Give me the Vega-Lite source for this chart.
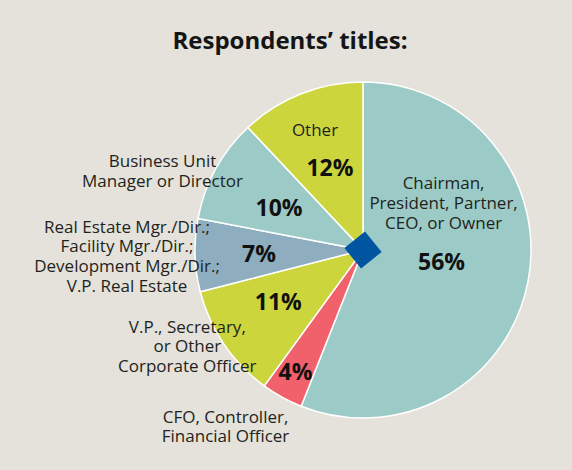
{
  "$schema": "https://vega.github.io/schema/vega-lite/v6.json",
  "width": 334,
  "height": 336,
  "autosize": {"type": "none"},
  "padding": {"left": 196, "top": 82, "right": 42, "bottom": 52},
  "background": "#e4e2da",
  "config": {"view": {"stroke": null}},
  "title": {"text": "Respondents’ titles:", "font": "Open Sans", "fontSize": 24, "fontWeight": "bold", "color": "#151515", "anchor": "middle", "dx": -73, "offset": 25},
  "data": {"values": [
    {"key": "Chairman", "label": "Chairman,\nPresident, Partner,\nCEO, or Owner", "share": 0.56, "rank": 1},
    {"key": "CFO", "label": "CFO, Controller,\nFinancial Officer", "share": 0.04, "rank": 2},
    {"key": "VP", "label": "V.P., Secretary,\nor Other\nCorporate Officer", "share": 0.11, "rank": 3},
    {"key": "RealEstate", "label": "Real Estate Mgr./Dir.;\nFacility Mgr./Dir.;\nDevelopment Mgr./Dir.;\nV.P. Real Estate", "share": 0.07, "rank": 4},
    {"key": "BusinessUnit", "label": "Business Unit\nManager or Director", "share": 0.10, "rank": 5},
    {"key": "Other", "label": "Other", "share": 0.12, "rank": 6}
  ]},
  "layer": [
    {
      "mark": {"type": "arc", "radius": 168, "stroke": "#ffffff", "strokeWidth": 1.5},
      "encoding": {
        "theta": {"field": "share", "type": "quantitative", "stack": true},
        "order": {"field": "rank", "type": "quantitative"},
        "color": {"field": "key", "type": "nominal", "legend": null,
          "scale": {"domain": ["Chairman", "CFO", "VP", "RealEstate", "BusinessUnit", "Other"],
                    "range": ["#9ccbc7", "#f1616c", "#ccd53c", "#8eadbf", "#9ccbc7", "#ccd53c"]}}
      }
    },
    {
      "transform": [{"filter": "datum.rank === 1"}],
      "mark": {"type": "point", "shape": "square", "angle": 51, "size": 700, "filled": true, "color": "#0054a0", "opacity": 1},
      "encoding": {}
    },
    {
      "mark": {"type": "text", "radius": 80, "dy": -2, "font": "Open Sans", "fontSize": 23, "fontWeight": "bold", "color": "#111111"},
      "encoding": {
        "theta": {"field": "share", "type": "quantitative", "stack": true},
        "order": {"field": "rank", "type": "quantitative"},
        "detail": {"field": "key", "type": "nominal"},
        "text": {"condition": {"test": "datum.key === 'Chairman'", "field": "share", "type": "quantitative", "format": ".0%"}, "value": ""}
      }
    },
    {
      "mark": {"type": "text", "radius": 140, "font": "Open Sans", "fontSize": 23, "fontWeight": "bold", "color": "#111111"},
      "encoding": {
        "theta": {"field": "share", "type": "quantitative", "stack": true},
        "order": {"field": "rank", "type": "quantitative"},
        "detail": {"field": "key", "type": "nominal"},
        "text": {"condition": {"test": "datum.key === 'CFO'", "field": "share", "type": "quantitative", "format": ".0%"}, "value": ""}
      }
    },
    {
      "mark": {"type": "text", "radius": 100, "dx": -2, "dy": -3, "font": "Open Sans", "fontSize": 23, "fontWeight": "bold", "color": "#111111"},
      "encoding": {
        "theta": {"field": "share", "type": "quantitative", "stack": true},
        "order": {"field": "rank", "type": "quantitative"},
        "detail": {"field": "key", "type": "nominal"},
        "text": {"condition": {"test": "datum.key === 'VP'", "field": "share", "type": "quantitative", "format": ".0%"}, "value": ""}
      }
    },
    {
      "mark": {"type": "text", "radius": 104, "dy": 2, "font": "Open Sans", "fontSize": 23, "fontWeight": "bold", "color": "#111111"},
      "encoding": {
        "theta": {"field": "share", "type": "quantitative", "stack": true},
        "order": {"field": "rank", "type": "quantitative"},
        "detail": {"field": "key", "type": "nominal"},
        "text": {"condition": {"test": "datum.key === 'RealEstate'", "field": "share", "type": "quantitative", "format": ".0%"}, "value": ""}
      }
    },
    {
      "mark": {"type": "text", "radius": 93, "dx": -2.5, "dy": 4, "font": "Open Sans", "fontSize": 23, "fontWeight": "bold", "color": "#111111"},
      "encoding": {
        "theta": {"field": "share", "type": "quantitative", "stack": true},
        "order": {"field": "rank", "type": "quantitative"},
        "detail": {"field": "key", "type": "nominal"},
        "text": {"condition": {"test": "datum.key === 'BusinessUnit'", "field": "share", "type": "quantitative", "format": ".0%"}, "value": ""}
      }
    },
    {
      "mark": {"type": "text", "radius": 87, "dx": -1, "font": "Open Sans", "fontSize": 23, "fontWeight": "bold", "color": "#111111"},
      "encoding": {
        "theta": {"field": "share", "type": "quantitative", "stack": true},
        "order": {"field": "rank", "type": "quantitative"},
        "detail": {"field": "key", "type": "nominal"},
        "text": {"condition": {"test": "datum.key === 'Other'", "field": "share", "type": "quantitative", "format": ".0%"}, "value": ""}
      }
    },
    {
      "mark": {"type": "text", "radius": 80, "dx": 2, "dy": -81, "font": "Open Sans", "fontSize": 17, "lineHeight": 20, "lineBreak": "\n", "align": "center", "baseline": "middle", "color": "#231f20"},
      "encoding": {
        "theta": {"field": "share", "type": "quantitative", "stack": true},
        "order": {"field": "rank", "type": "quantitative"},
        "detail": {"field": "key", "type": "nominal"},
        "text": {"condition": {"test": "datum.key === 'Chairman'", "field": "label", "type": "nominal"}, "value": ""}
      }
    },
    {
      "mark": {"type": "text", "radius": 140, "dx": -70, "dy": 45.5, "font": "Open Sans", "fontSize": 17, "lineHeight": 19, "lineBreak": "\n", "align": "center", "baseline": "middle", "color": "#231f20"},
      "encoding": {
        "theta": {"field": "share", "type": "quantitative", "stack": true},
        "order": {"field": "rank", "type": "quantitative"},
        "detail": {"field": "key", "type": "nominal"},
        "text": {"condition": {"test": "datum.key === 'CFO'", "field": "label", "type": "nominal"}, "value": ""}
      }
    },
    {
      "mark": {"type": "text", "radius": 100, "dx": -93, "dy": 21.5, "font": "Open Sans", "fontSize": 17, "lineHeight": 19.5, "lineBreak": "\n", "align": "center", "baseline": "middle", "color": "#231f20"},
      "encoding": {
        "theta": {"field": "share", "type": "quantitative", "stack": true},
        "order": {"field": "rank", "type": "quantitative"},
        "detail": {"field": "key", "type": "nominal"},
        "text": {"condition": {"test": "datum.key === 'VP'", "field": "label", "type": "nominal"}, "value": ""}
      }
    },
    {
      "mark": {"type": "text", "radius": 104, "dx": -132, "dy": -25.7, "font": "Open Sans", "fontSize": 17, "lineHeight": 19.8, "lineBreak": "\n", "align": "center", "baseline": "middle", "color": "#231f20"},
      "encoding": {
        "theta": {"field": "share", "type": "quantitative", "stack": true},
        "order": {"field": "rank", "type": "quantitative"},
        "detail": {"field": "key", "type": "nominal"},
        "text": {"condition": {"test": "datum.key === 'RealEstate'", "field": "label", "type": "nominal"}, "value": ""}
      }
    },
    {
      "mark": {"type": "text", "radius": 93, "dx": -119, "dy": -42.7, "font": "Open Sans", "fontSize": 17, "lineHeight": 19.5, "lineBreak": "\n", "align": "center", "baseline": "middle", "color": "#231f20"},
      "encoding": {
        "theta": {"field": "share", "type": "quantitative", "stack": true},
        "order": {"field": "rank", "type": "quantitative"},
        "detail": {"field": "key", "type": "nominal"},
        "text": {"condition": {"test": "datum.key === 'BusinessUnit'", "field": "label", "type": "nominal"}, "value": ""}
      }
    },
    {
      "mark": {"type": "text", "radius": 87, "dx": -16, "dy": -38, "font": "Open Sans", "fontSize": 17, "lineHeight": 19.5, "lineBreak": "\n", "align": "center", "baseline": "middle", "color": "#231f20"},
      "encoding": {
        "theta": {"field": "share", "type": "quantitative", "stack": true},
        "order": {"field": "rank", "type": "quantitative"},
        "detail": {"field": "key", "type": "nominal"},
        "text": {"condition": {"test": "datum.key === 'Other'", "field": "label", "type": "nominal"}, "value": ""}
      }
    }
  ]
}
